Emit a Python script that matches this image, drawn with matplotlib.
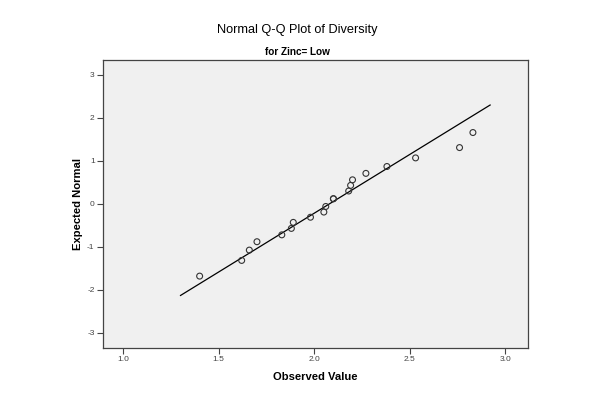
import numpy as np
import matplotlib.pyplot as plt

plt.rcParams['font.family'] = ['Liberation Sans', 'DejaVu Sans']
plt.rcParams['axes.unicode_minus'] = False

observed = [1.40, 1.62, 1.66, 1.70, 1.83, 1.88, 1.89, 1.98, 2.05, 2.06,
            2.10, 2.10, 2.18, 2.19, 2.20, 2.27, 2.38, 2.53, 2.76, 2.83]
expected = [-1.68, -1.315, -1.075, -0.88, -0.72, -0.57, -0.43, -0.31, -0.19, -0.06,
            0.12, 0.12, 0.30, 0.43, 0.56, 0.71, 0.87, 1.07, 1.31, 1.66]
# reference line end points
line_x = [1.30, 2.92]
line_y = [-2.13, 2.30]

xticks = [1.0, 1.5, 2.0, 2.5, 3.0]
yticks = [-3, -2, -1, 0, 1, 2, 3]

fig = plt.figure(figsize=(5.95, 3.94), dpi=100)
ax = fig.add_axes([0.173, 0.117, 0.714, 0.731])
ax.set_facecolor('#f0f0f0')

ax.plot(line_x, line_y, color='black', lw=0.9)
ax.scatter(observed, expected, s=18, facecolors='none', edgecolors='#333333', linewidths=0.8, zorder=3)

ax.set_xlim(0.894, 3.117)
ax.set_ylim(-3.35, 3.35)
ax.set_xticks(xticks)
ax.set_xticklabels(['%.1f' % t for t in xticks])
ax.set_yticks(yticks)
ax.tick_params(labelsize=6, colors='#444444', length=4, width=0.8, direction='out', pad=2)
for s in ax.spines.values():
    s.set_color('#444444')
    s.set_linewidth(0.9)

ax.set_xlabel('Observed Value', fontsize=8.1, fontweight='bold', labelpad=6)
ax.set_ylabel('Expected Normal', fontsize=8.1, fontweight='bold')
ax.yaxis.set_label_coords(-0.047, 0.5)

fig.text(0.5, 0.924, 'Normal Q-Q Plot of Diversity', ha='center', va='center', fontsize=9.2)
fig.text(0.5, 0.868, 'for Zinc= Low', ha='center', va='center', fontsize=7.2, fontweight='bold')

fig.savefig('out.png', dpi=100, facecolor='white')
